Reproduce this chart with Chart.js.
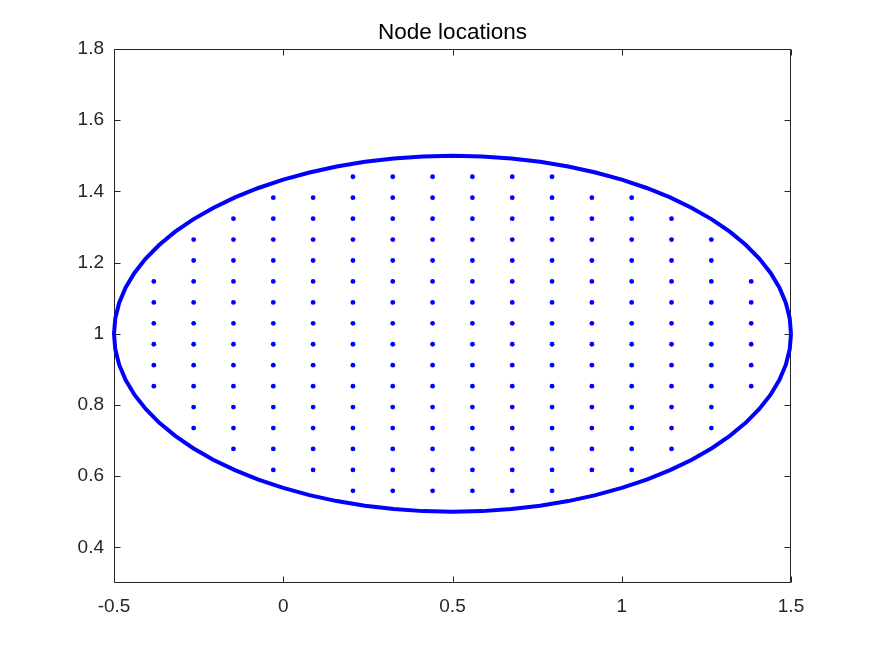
<!DOCTYPE html>
<html>
<head>
<meta charset="utf-8">
<title>Node locations</title>
<script src="https://cdn.jsdelivr.net/npm/chart.js@4.4.1/dist/chart.umd.min.js"></script>
<style>
  html, body { margin: 0; padding: 0; background: #fff; }
  #wrap { width: 875px; height: 656px; }
</style>
</head>
<body>
<div id="wrap"><canvas id="nodeChart" width="875" height="656"></canvas></div>
<script>
// Interior node grid (columns x, rows y)
const gridX = [-0.3824, -0.2647, -0.1471, -0.0294, 0.0882, 0.2059, 0.3235, 0.4412,
               0.5588, 0.6765, 0.7941, 0.9118, 1.0294, 1.1471, 1.2647, 1.3824];
const gridY = [0.5588, 0.6176, 0.6765, 0.7353, 0.7941, 0.8529, 0.9118, 0.9706,
               1.0294, 1.0882, 1.1471, 1.2059, 1.2647, 1.3235, 1.3824, 1.4412];
// first / last row index that has a node, per column
const colFirstRow = [5, 3, 2, 1, 1, 0, 0, 0, 0, 0, 0, 1, 1, 2, 3, 5];
const colLastRow = [10, 12, 13, 14, 14, 15, 15, 15, 15, 15, 15, 14, 14, 13, 12, 10];

// Boundary nodes (ellipse outline)
const boundaryX = [1.5, 1.4962, 1.4848, 1.4659, 1.4397, 1.4063, 1.366, 1.3192, 1.266, 1.2071,
  1.1428, 1.0736, 1.0, 0.9226, 0.842, 0.7588, 0.6736, 0.5872, 0.5,
  0.4128, 0.3264, 0.2412, 0.158, 0.0774, 0.0, -0.0736, -0.1428, -0.2071,
  -0.266, -0.3192, -0.366, -0.4063, -0.4397, -0.4659, -0.4848, -0.4962, -0.5,
  -0.4962, -0.4848, -0.4659, -0.4397, -0.4063, -0.366, -0.3192, -0.266, -0.2071,
  -0.1428, -0.0736, 0.0, 0.0774, 0.158, 0.2412, 0.3264, 0.4128, 0.5,
  0.5872, 0.6736, 0.7588, 0.842, 0.9226, 1.0, 1.0736, 1.1428, 1.2071,
  1.266, 1.3192, 1.366, 1.4063, 1.4397, 1.4659, 1.4848, 1.4962, 1.5];
const boundaryY = [1.0, 1.0436, 1.0868, 1.1294, 1.171, 1.2113, 1.25, 1.2868, 1.3214, 1.3536,
  1.383, 1.4096, 1.433, 1.4532, 1.4699, 1.483, 1.4924, 1.4981, 1.5,
  1.4981, 1.4924, 1.483, 1.4699, 1.4532, 1.433, 1.4096, 1.383, 1.3536,
  1.3214, 1.2868, 1.25, 1.2113, 1.171, 1.1294, 1.0868, 1.0436, 1.0,
  0.9564, 0.9132, 0.8706, 0.829, 0.7887, 0.75, 0.7132, 0.6786, 0.6464,
  0.617, 0.5904, 0.567, 0.5468, 0.5301, 0.517, 0.5076, 0.5019, 0.5,
  0.5019, 0.5076, 0.517, 0.5301, 0.5468, 0.567, 0.5904, 0.617, 0.6464,
  0.6786, 0.7132, 0.75, 0.7887, 0.829, 0.8706, 0.9132, 0.9564, 1.0];

const xTicks = [-0.5, 0, 0.5, 1, 1.5];
const xTickLabels = ['-0.5', '0', '0.5', '1', '1.5'];
const yTicks = [0.4, 0.6, 0.8, 1, 1.2, 1.4, 1.6, 1.8];
const yTickLabels = ['0.4', '0.6', '0.8', '1', '1.2', '1.4', '1.6', '1.8'];

const interiorPts = [];
gridX.forEach((x, i) => {
    for (let j = colFirstRow[i]; j <= colLastRow[i]; j++) {
        interiorPts.push({ x: x, y: gridY[j] });
    }
});
const boundaryPts = boundaryX.map((x, i) => ({ x: x, y: boundaryY[i] }));

const axisColor = '#262626';
const fontFamily = '"Liberation Sans", Arial, Helvetica, sans-serif';
const tickLen = 6;

// MATLAB-style box with inward ticks on all four sides
const axesBox = {
    id: 'axesBox',
    beforeDatasetsDraw(chart) {
        const { ctx, chartArea: a, scales } = chart;
        const L = Math.round(a.left) + 0.5, R = Math.round(a.right) - 0.5;
        const T = Math.round(a.top) + 0.5, B = Math.round(a.bottom) - 0.5;
        ctx.save();
        ctx.strokeStyle = axisColor;
        ctx.lineWidth = 1;
        ctx.beginPath();
        ctx.rect(L, T, R - L, B - T);
        xTicks.forEach(v => {
            const px = Math.round(scales.x.getPixelForValue(v)) + 0.5;
            ctx.moveTo(px, B); ctx.lineTo(px, B - tickLen);
            ctx.moveTo(px, T); ctx.lineTo(px, T + tickLen);
        });
        yTicks.forEach(v => {
            const py = Math.round(scales.y.getPixelForValue(v)) + 0.5;
            ctx.moveTo(L, py); ctx.lineTo(L + tickLen, py);
            ctx.moveTo(R, py); ctx.lineTo(R - tickLen, py);
        });
        ctx.stroke();
        ctx.restore();
    }
};

new Chart(document.getElementById('nodeChart'), {
    type: 'scatter',
    data: {
        datasets: [
            {
                label: 'interior',
                data: interiorPts,
                backgroundColor: '#0000ff',
                borderColor: '#0000ff',
                pointRadius: 2.4,
                borderWidth: 0,
                showLine: false
            },
            {
                label: 'boundary',
                data: boundaryPts,
                borderColor: '#0000ff',
                backgroundColor: '#0000ff',
                borderWidth: 4,
                pointRadius: 0,
                showLine: true,
                tension: 0,
                clip: false
            }
        ]
    },
    options: {
        responsive: false,
        animation: false,
        layout: { padding: { left: 0, right: 84, top: 0, bottom: 0 } },
        plugins: {
            legend: { display: false },
            tooltip: { enabled: false },
            title: {
                display: true,
                fullSize: false,
                text: 'Node locations',
                color: '#000',
                font: { family: fontFamily, size: 22.5, weight: 'normal' },
                padding: { top: 19, bottom: 3 }
            }
        },
        scales: {
            x: {
                type: 'linear',
                min: -0.5,
                max: 1.5,
                grid: { display: false, drawTicks: false, tickLength: 0 },
                border: { display: false },
                afterBuildTicks: scale => { scale.ticks = xTicks.map(v => ({ value: v })); },
                afterFit: scale => { scale.height = 73; },
                ticks: {
                    color: axisColor,
                    padding: 12,
                    maxRotation: 0,
                    font: { family: fontFamily, size: 19 },
                    callback: (value, index) => xTickLabels[index]
                }
            },
            y: {
                type: 'linear',
                min: 0.3,
                max: 1.8,
                grid: { display: false, drawTicks: false, tickLength: 0 },
                border: { display: false },
                afterBuildTicks: scale => { scale.ticks = yTicks.map(v => ({ value: v })); },
                afterFit: scale => { scale.width = 114; },
                ticks: {
                    color: axisColor,
                    padding: 10,
                    font: { family: fontFamily, size: 19 },
                    callback: (value, index) => yTickLabels[index]
                }
            }
        }
    },
    plugins: [axesBox]
});
</script>
</body>
</html>
